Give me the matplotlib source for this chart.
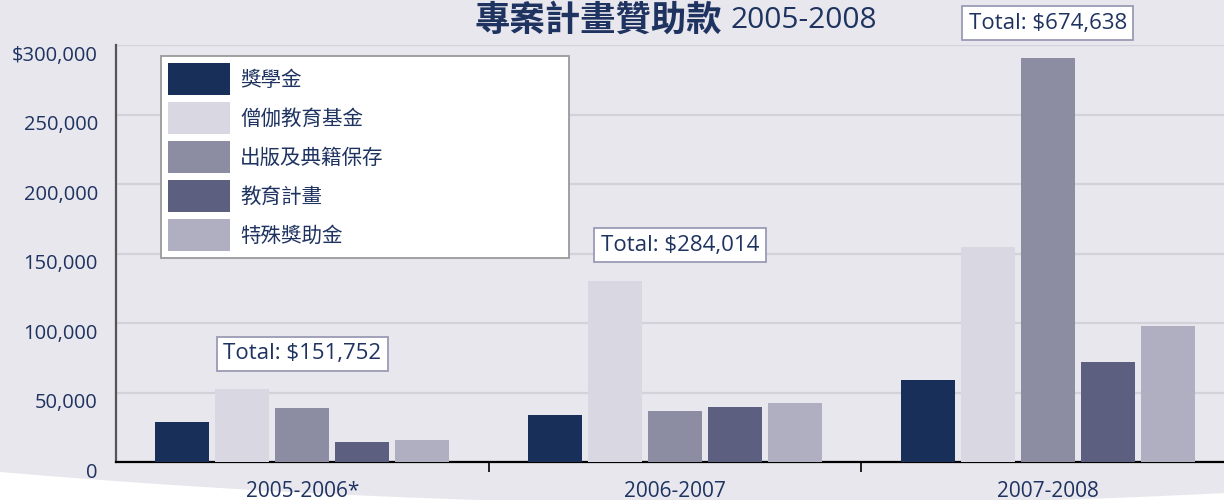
import numpy as np
import matplotlib
matplotlib.use("Agg")
import matplotlib.pyplot as plt
from matplotlib.transforms import ScaledTranslation
from matplotlib.patches import Polygon

plt.rcParams['font.family'] = ['Open Sans', 'Noto Sans CJK TC', 'DejaVu Sans']

# data
years = ["2005-2006*", "2006-2007", "2007-2008"]
series = ["獎學金", "僧伽教育基金", "出版及典籍保存", "教育計畫", "特殊獎助金"]
scholarship = [28800, 33800, 59000]
sangha_edu = [52500, 130200, 154900]
publishing = [38900, 36700, 290600]
edu_program = [14400, 39600, 71900]
special = [15800, 42400, 97800]
totals = [151752, 284014, 674638]

colors = ["#182f5a", "#d9d8e2", "#8c8ca3", "#5c5f80", "#b0afc2"]
navy = "#1f3361"
bg = "#e8e7ed"

fig = plt.figure(figsize=(12.24, 5), dpi=100)
fig.patch.set_facecolor(bg)

# white swoosh at the bottom
xs = np.linspace(0, 1224, 60)
ys = 472 + 0.0849 * xs - 5.53e-5 * xs ** 2
pts = [(xx / 1224, 1 - yy / 500) for xx, yy in zip(xs, ys)] + [(1, 0), (0, 0)]
fig.add_artist(Polygon(pts, closed=True, transform=fig.transFigure,
                       fc="white", ec="none", zorder=-5))

ax = fig.add_axes([116 / 1224, 38 / 500, 1118 / 1224, 417 / 500])
ax.set_facecolor("none")

x = np.arange(len(years))
w = 0.145
step = 0.161
data = [scholarship, sangha_edu, publishing, edu_program, special]
for i, (vals, c, lab) in enumerate(zip(data, colors, series)):
    ax.bar(x + (i - 2) * step, vals, w, color=c, label=lab, zorder=3)

ax.set_xlim(-0.5, 2.5)
ax.set_ylim(0, 300000)
ax.set_yticks(np.arange(0, 300001, 50000))
ax.set_yticklabels(["0", "50,000", "100,000", "150,000", "200,000", "250,000", "$300,000"])
ax.yaxis.grid(True, color="#d3d2da", lw=1.6, zorder=0)
ax.set_axisbelow(True)
ax.tick_params(axis="y", length=0, pad=13, labelsize=14.5, labelcolor=navy)
off = ScaledTranslation(0, -8 / 100, fig.dpi_scale_trans)
for lbl in ax.get_yticklabels():
    lbl.set_transform(lbl.get_transform() + off)

ax.set_xticks(x)
ax.set_xticklabels(years)
ax.set_xticks([0.5, 1.5], minor=True)
ax.tick_params(axis="x", which="major", length=0, pad=14, labelsize=15, labelcolor=navy)
ax.tick_params(axis="x", which="minor", length=7, width=1.2, color="black", direction="out")

for s in ["top", "right"]:
    ax.spines[s].set_visible(False)
ax.spines["left"].set_color("#555555")
ax.spines["left"].set_linewidth(1.6)
ax.spines["bottom"].set_color("black")
ax.spines["bottom"].set_linewidth(1.6)

# total labels: (x shift in categories, y in data units)
box_dx = [0, 0.014, 0]
box_y = [77700, 156100, 315800]
for i, t in enumerate(totals):
    ax.text(x[i] + box_dx[i], box_y[i], f"Total: ${t:,}", ha="center", va="center",
            fontsize=16, color=navy, clip_on=False, zorder=5,
            bbox=dict(boxstyle="square,pad=0.3", fc="white", ec="#9a9ab5", lw=1.3))

leg = ax.legend(loc="upper left", bbox_to_anchor=(161 / 1224, 241 / 500, 408 / 1224, 203 / 500),
                bbox_transform=fig.transFigure, mode="expand", borderaxespad=0,
                prop={"family": ["Noto Sans CJK TC"], "size": 14.8},
                handlelength=3.02, handleheight=2.018, labelspacing=0.34,
                handletextpad=0.49, borderpad=0.34, fancybox=False, framealpha=1,
                edgecolor="#9a9a9a")
leg.get_frame().set_linewidth(1.3)
for t in leg.get_texts():
    t.set_color(navy)

fig.text(722 / 1224, 1 - 20 / 500, "專案計畫贊助款", ha="right", va="center",
         fontsize=25.5, color=navy, family=["Noto Sans CJK TC"], weight="bold")
fig.text(730 / 1224, 1 - 20 / 500, "2005-2008", ha="left", va="center",
         fontsize=21.5, color=navy)

fig.savefig("out.png", dpi=100, facecolor=bg)
